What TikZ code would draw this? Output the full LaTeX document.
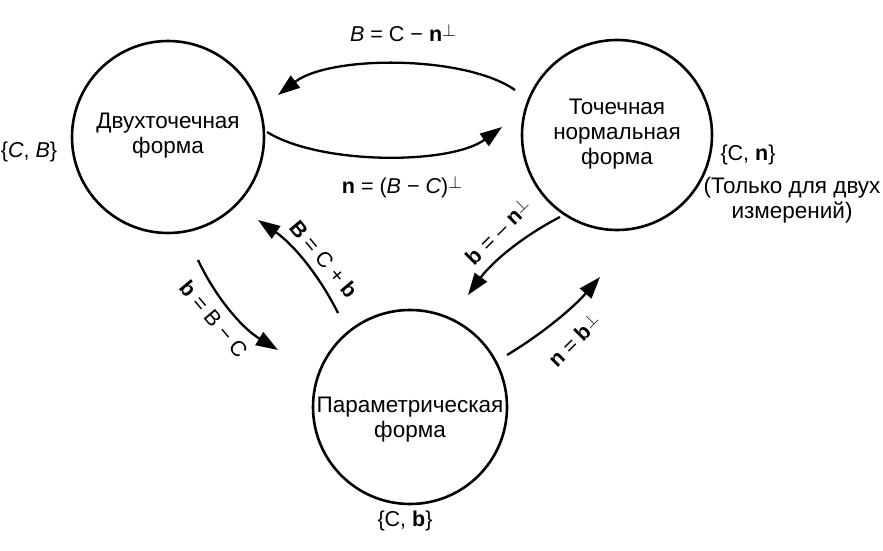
\documentclass[tikz,border=0pt]{standalone}
\usepackage{fontspec}
\setmainfont{Liberation Sans}
\usetikzlibrary{arrows.meta}
\newcommand\perpup{\raisebox{0.45ex}{\scalebox{0.85}{$\perp$}}}
\begin{document}
\begin{tikzpicture}[x=1pt,y=-1pt,
  form/.style={draw, circle, line width=2.6pt, inner sep=0pt},
  txt/.style={align=center, inner sep=0pt, font=\fontsize{22.5}{25}\selectfont},
  lbl/.style={inner sep=0pt, font=\fontsize{21.5}{25}\selectfont},
  conv/.style={line width=2.3pt, -{Triangle[length=22pt,width=15pt]}},
]
\useasboundingbox (0,0) rectangle (883,551);
% circles
\node[form, minimum size=192pt] (L) at (168,137) {};
\node[form, minimum size=190pt] (R) at (617,135) {};
\node[form, minimum size=194pt] (P) at (410,407) {};
% texts inside
\node[txt] (Lt) at (168,136) {Двухточечная\\форма};
\node[txt] (Rt) at (617,134) {Точечная\\нормальная\\форма};
\node[txt] (Pt) at (410,420) {Параметрическая\\форма};
% outside labels
\node[lbl] (Ls) at (29,152) {\{\textit{C}, \textit{B}\}};
\node[lbl] (Rs) at (748,155) {\{C, \textbf{n}\}};
\node[txt] (Rn) at (792,200) {(Только для двух\\измерений)};
\node[lbl] (Ps) at (405,521) {\{C, \textbf{b}\}};
% connector end points
\coordinate (a1) at (515,90);  \coordinate (a2) at (278,95);
\coordinate (b1) at (267,132); \coordinate (b2) at (502,127);
\coordinate (c1) at (338,313); \coordinate (c2) at (258,220);
\coordinate (d1) at (198,260); \coordinate (d2) at (278,350);
\coordinate (e1) at (560,217); \coordinate (e2) at (468,295);
\coordinate (f1) at (507,355); \coordinate (f2) at (600,277);
% connectors
\draw[conv] (a1) .. controls (465,55) and (330,55) .. (a2);
\draw[conv] (b1) .. controls (320,165) and (450,165) .. (b2);
\draw[conv] (c1) .. controls (319,275) and (293,244) .. (c2);
\draw[conv] (d1) .. controls (216,298) and (242,328) .. (d2);
\draw[conv] (e1) .. controls (523,236) and (492,262) .. (e2);
\draw[conv] (f1) .. controls (542,334) and (573,308) .. (f2);
% connector labels
\node[lbl] (la) at (403,33) {\textit{B} = C − \textbf{n}\perpup};
\node[lbl] (lb) at (402,187) {\textbf{n} = (\textit{B} − \textit{C})\perpup};
\node[lbl, rotate=-50] (lc) at (324,259) {\textbf{B} = C + \textbf{b}};
\node[lbl, rotate=-50] (ld) at (214,319) {\textbf{b} = B − C};
\node[lbl, rotate=45] (le) at (498,231) {\textbf{b} = – \textbf{n}\perpup};
\node[lbl, rotate=45] (lf) at (574,340) {\textbf{n} = \textbf{b}\perpup};
\end{tikzpicture}
\end{document}
